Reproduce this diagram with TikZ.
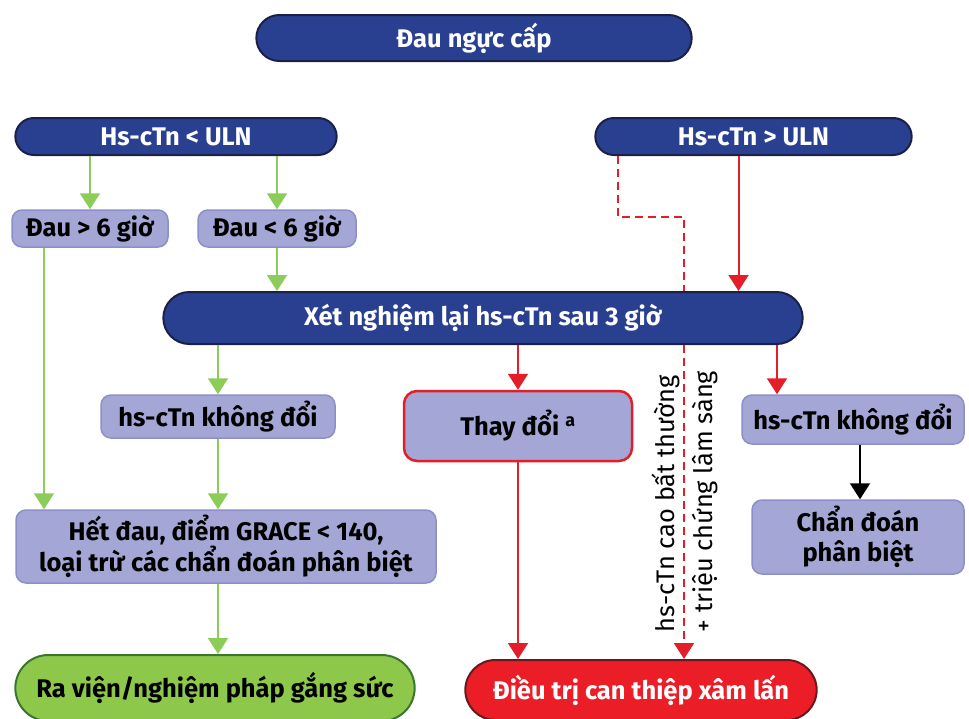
\documentclass[tikz,border=0pt]{standalone}
\usepackage{fontspec}
\setmainfont{Fira Sans}
\usetikzlibrary{arrows.meta,shapes.misc}

\definecolor{navy}{RGB}{40,64,143}
\definecolor{navyline}{RGB}{28,32,72}
\definecolor{lav}{RGB}{164,167,213}
\definecolor{lavline}{RGB}{140,143,200}
\definecolor{grn}{RGB}{141,200,75}
\definecolor{grnline}{RGB}{58,118,44}
\definecolor{rd}{RGB}{235,30,40}
\definecolor{rdline}{RGB}{105,25,30}
\definecolor{arrgrn}{RGB}{140,205,90}
\definecolor{arrred}{RGB}{228,30,40}

\begin{document}
\begin{tikzpicture}[x=1pt,y=-1pt,
  pill/.style={rounded rectangle, draw=navyline, line width=2pt, fill=navy,
    text=white, font=\fontsize{25.5}{30}\selectfont\bfseries},
  soft/.style={rectangle, rounded corners=10pt, draw=lavline, line width=1.5pt,
    fill=lav, align=center, font=\fontsize{25.5}{30}\selectfont\bfseries},
  garrow/.style={draw=arrgrn, line width=2pt, -{Triangle[width=20pt,length=16pt]}},
  rarrow/.style={draw=arrred, line width=2pt, -{Triangle[width=20pt,length=16pt]}},
  rdash/.style={draw=arrred, line width=2pt, dash pattern=on 8pt off 5pt}]

  % page and clipping
  \useasboundingbox (0,0) rectangle (969,718);
  \clip (0,0) rectangle (969,718);

  % top row
  \node[pill, minimum width=442pt, minimum height=46pt] (pain) at (474,38) {Đau ngực cấp};
  \node[pill, minimum width=328pt, minimum height=37pt] (hlo) at (176,136.5) {Hs-cTn < ULN};
  \node[pill, minimum width=323pt, minimum height=37pt] (hhi) at (753.5,136.5) {Hs-cTn > ULN};

  % onset of pain
  \node[soft, minimum width=156pt, minimum height=37pt] (d6a) at (90,228.5) {Đau > 6 giờ};
  \node[soft, minimum width=158pt, minimum height=37pt] (d6b) at (277,228.5) {Đau < 6 giờ};

  % retest after 3 h
  \node[pill, minimum width=646pt, minimum height=52pt] (retest) at (483,318) {Xét nghiệm lại hs-cTn sau 3 giờ};

  % results of the retest
  \node[soft, minimum width=234pt, minimum height=43pt] (same1) at (218,416.5) {hs-cTn không đổi};
  \node[soft, rounded corners=13pt, draw=arrred, line width=2.5pt, minimum width=228pt,
    minimum height=70pt] (change) at (518,426) {Thay đổi \textsuperscript{a}};
  \node[soft, minimum width=222pt, minimum height=49pt] (same2) at (853,419.5) {hs-cTn không đổi};
  \node[soft, minimum width=212pt, minimum height=74pt] (ddx) at (858,537) {Chẩn đoán\\phân biệt};
  \node[soft, minimum width=420pt, minimum height=73pt] (grace) at (226,546.5)
    {Hết đau, điểm GRACE < 140,\\loại trừ các chẩn đoán phân biệt};

  % outcomes
  \node[pill, draw=grnline, fill=grn, text=black, minimum width=406pt, minimum height=66pt]
    (home) at (215,688) {Ra viện/nghiệm pháp gắng sức};
  \node[pill, draw=rdline, fill=rd, minimum width=358pt, minimum height=60pt]
    (invasive) at (641,690) {Điều trị can thiệp xâm lấn};

  % label along the dashed path
  \node[rotate=90, align=left, font=\fontsize{25.4}{38}\selectfont] (note) at (685,501.5)
    {hs-cTn cao bất thường\\+ triệu chứng lâm sàng};

  % green connectors
  \draw[garrow] (hlo.south -| d6a) -- (d6a.north);
  \draw[garrow] (hlo.south -| d6b) -- (d6b.north);
  \draw[garrow] (d6b.south) -- (d6b.south |- retest.north);
  \draw[garrow] ([xshift=-46pt]d6a.south) -- ([xshift=-46pt]d6a.south |- grace.north);
  \draw[garrow] (retest.south -| same1) -- (same1.north);
  \draw[garrow] (same1.south) -- (same1.south |- grace.north);
  \draw[garrow] (grace.south -| same1) -- (home.north -| same1);

  % red connectors
  \draw[rarrow] ([xshift=-15pt]hhi.south) -- ([xshift=-15pt]hhi.south |- retest.north);
  \coordinate (jog) at (684,217);
  \draw[rdash] ([xshift=-135.5pt]hhi.south) |- (jog) -- (jog |- retest.north);
  \draw[rdash, -{Triangle[width=20pt,length=16pt]}] (retest.south -| jog) -- (invasive.north -| jog);
  \draw[rarrow] (retest.south -| change) -- (change.north);
  \draw[rarrow] (change.south) -- (change.south |- invasive.north);
  \draw[rarrow] ([xshift=-76pt]same2.north |- retest.south) -- ([xshift=-76pt]same2.north);

  % black connector
  \draw[line width=2pt, -{Triangle[width=20pt,length=16pt]}] ([xshift=7pt]same2.south) -- ([xshift=7pt]same2.south |- ddx.north);

\end{tikzpicture}
\end{document}
